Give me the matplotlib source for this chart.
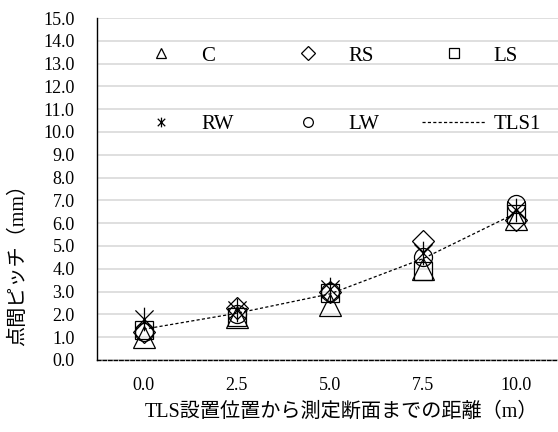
import numpy as np
import matplotlib.pyplot as plt
from matplotlib.path import Path

# distance from the scanner (m) and point pitch (mm) per measured surface
distances = ['0.0', '2.5', '5.0', '7.5', '10.0']
pitch_C = [1.0, 1.9, 2.4, 4.0, 6.2]
pitch_RS = [1.25, 2.3, 3.0, 5.2, 6.15]
pitch_LS = [1.3, 1.9, 2.95, 3.9, 6.4]
pitch_RW = [1.8, 2.2, 3.1, 4.7, 6.6]
pitch_LW = [1.25, 2.0, 3.0, 4.5, 6.85]
pitch_TLS1 = [1.35, 2.05, 2.9, 4.45, 6.45]

yticks = np.arange(0, 15.5, 1.0)

SERIF_JP = ['Liberation Serif', 'Noto Sans CJK JP']
plt.rcParams['font.family'] = SERIF_JP

# asterisk marker: an X with a vertical bar through it
star = Path([(-1, -1), (1, 1), (-1, 1), (1, -1), (0, -1.3), (0, 1.3)],
            [Path.MOVETO, Path.LINETO, Path.MOVETO, Path.LINETO,
             Path.MOVETO, Path.LINETO])

fig = plt.figure(figsize=(5.58, 4.32), dpi=100)
ax = fig.add_axes([97 / 558, 72 / 432, 466 / 558, 342 / 432])

x = np.arange(len(distances))
mk = dict(linestyle='none', color='black', markerfacecolor='none',
          markeredgewidth=0.9)
hC, = ax.plot(x, pitch_C, marker='^', markersize=15.5, label='C', **mk)
hRS, = ax.plot(x, pitch_RS, marker='D', markersize=11.5, label='RS', **mk)
hLS, = ax.plot(x, pitch_LS, marker='s', markersize=13, label='LS', **mk)
hRW, = ax.plot(x, pitch_RW, marker=star, markersize=17, label='RW', **mk)
hLW, = ax.plot(x, pitch_LW, marker='o', markersize=13, label='LW', **mk)
hT, = ax.plot(x, pitch_TLS1, color='black', linewidth=0.9,
              linestyle=(0, (2.5, 1.8)), label='TLS1')

ax.set_xlim(-0.5, 4.5)
ax.set_ylim(0, 15)
ax.set_xticks(x)
ax.set_xticklabels(distances)
ax.set_yticks(yticks)
ax.set_yticklabels([f'{v:.1f}' for v in yticks])
ax.tick_params(axis='both', length=0, labelsize=13)
ax.tick_params(axis='y', pad=16)
ax.tick_params(axis='x', pad=12)

ax.grid(axis='y', color='#d9d9d9', linewidth=1.2)
ax.set_axisbelow(True)
for s in ['top', 'right']:
    ax.spines[s].set_visible(False)
ax.spines['left'].set_linewidth(1.0)
ax.spines['bottom'].set_linestyle((0, (2.5, 1.5)))
ax.spines['bottom'].set_linewidth(1.0)

# legend fills column by column, so order handles to read C RS LS / RW LW TLS1
handles = [hC, hRW, hRS, hLW, hLS, hT]
leg = ax.legend(handles=handles, labels=[h.get_label() for h in handles],
                ncol=3, frameon=False, loc='upper left',
                bbox_to_anchor=(129 / 558, 1 - 46 / 432),
                bbox_transform=fig.transFigure, borderpad=0, borderaxespad=0,
                fontsize=15, handlelength=3.1, handletextpad=0.35,
                columnspacing=2.05, labelspacing=2.35)
for h in leg.legend_handles:
    h.set_markersize(7)

fig.text(19 / 558, 1 - 260 / 432, '点間ピッチ（mm）', rotation=90,
         ha='center', va='center', fontsize=14.5)
fig.text(341 / 558, 1 - 412 / 432, 'TLS設置位置から測定断面までの距離（m）',
         ha='center', va='center', fontsize=14.5)

fig.savefig('out.png', dpi=100)
